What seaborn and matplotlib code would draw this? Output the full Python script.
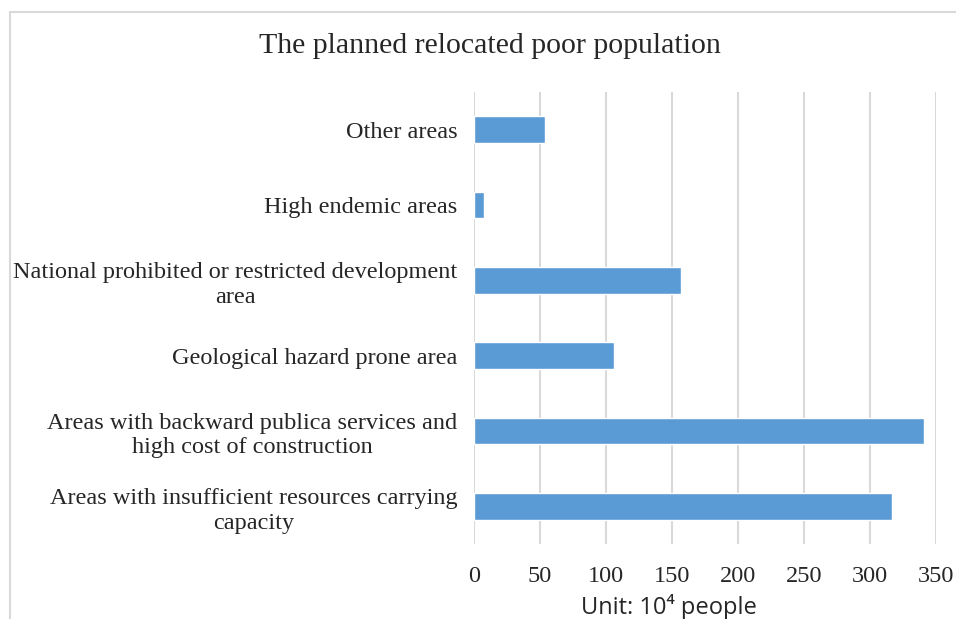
import numpy as np
import matplotlib
matplotlib.use('Agg')
import matplotlib.pyplot as plt
import seaborn as sns
import pandas as pd
from matplotlib.patches import Rectangle

# chart data
categories = ['Other areas',
              'High endemic areas',
              'National prohibited or restricted development\narea',
              'Geological hazard prone area',
              'Areas with backward publica services and\nhigh cost of construction',
              'Areas with insufficient resources carrying\ncapacity']
population = [54, 7.5, 157, 106, 341, 317]
x_ticks = [0, 50, 100, 150, 200, 250, 300, 350]

sns.set_theme(style='white')
plt.rcParams['font.family'] = ['Liberation Serif', 'DejaVu Serif']

df = pd.DataFrame({'area': categories, 'pop': population})

fig = plt.figure(figsize=(9.56, 6.19), dpi=100)
ax = fig.add_axes([474/956, 1-544/619, (936-474)/956, (544-92)/619])

sns.barplot(data=df, y='area', x='pop', orient='h', color='#5b9bd5',
            width=0.35, saturation=1, ax=ax)

ax.set_xlim(0, 350)
ax.set_xticks(x_ticks)
ax.set_xticklabels([str(t) for t in x_ticks], fontsize=17.5)
ax.set_yticks(range(len(categories)))
ax.set_yticklabels(categories, fontsize=17.5, ha='right', multialignment='center',
                   linespacing=1.25)
ax.tick_params(axis='y', pad=12, length=0)
ax.tick_params(axis='x', pad=16, length=0)
ax.grid(axis='x', color='#d9d9d9', linewidth=1.5)
ax.set_axisbelow(True)
for s in ax.spines.values():
    s.set_visible(False)
ax.set_xlabel('')
ax.set_ylabel('')

fig.suptitle('The planned relocated poor population', x=490/956, y=1-46/619,
             va='center', fontsize=21.5)
fig.text(669/956, 1-607/619, 'Unit: 10\u2074 people', ha='center', va='center',
         fontsize=17, fontweight='medium', family=['Open Sans', 'DejaVu Sans'])

# light frame like the source
fig.patches.append(Rectangle((10/956, -0.05), 1.0, 1-12/619+0.05,
                             transform=fig.transFigure, fill=False,
                             edgecolor='#d9d9d9', linewidth=1.5))

fig.savefig('out.png', dpi=100)
